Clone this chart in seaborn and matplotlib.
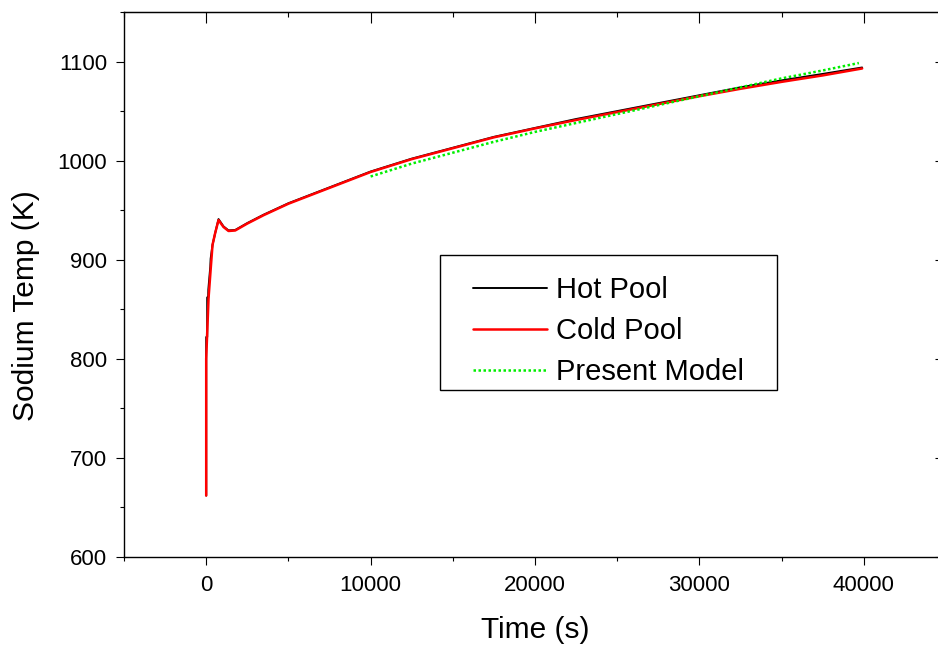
import numpy as np
import pandas as pd
import seaborn as sns
import matplotlib.pyplot as plt
from matplotlib.patches import Rectangle

# sodium temperatures
hot_t = [0, 0, 60, 60, 120, 130, 250, 270, 385, 547, 750, 1053, 1357, 1763,
         2500, 3500, 5000, 7500, 10000, 12500, 15000, 17500, 20000, 22500,
         25000, 27500, 30000, 32500, 35000, 37500, 39900]
hot_T = [662, 822, 822, 862, 862, 870, 893, 901, 915, 927, 941, 933.6, 929.6, 930,
         937, 945.5, 957, 973, 989, 1002, 1013, 1024, 1033, 1042,
         1050, 1058, 1066, 1074, 1081, 1087.5, 1094]

cold_t = [0, 0, 142, 284, 385, 547, 750, 1053, 1357, 1763,
          2500, 3500, 5000, 7500, 10000, 12500, 15000, 17500, 20000, 22500,
          25000, 27500, 30000, 32500, 35000, 37500, 39900]
cold_T = [662, 800, 861, 893, 915, 927, 940, 933, 929, 929.5,
          936.5, 945, 956.5, 972.5, 988.5, 1001.5, 1012.5, 1023.5, 1032.5, 1041,
          1049, 1057, 1065, 1072.5, 1079.5, 1086, 1093]

model_t = [10000, 12500, 15000, 17500, 20000, 22500, 25000, 27500,
           30000, 32500, 35000, 37500, 39700]
model_T = [984, 997, 1008, 1019, 1029, 1038, 1047, 1056,
           1065, 1074, 1083, 1091, 1098.5]

sns.set_style('ticks')
plt.rcParams['font.family'] = ['Liberation Sans', 'DejaVu Sans']
plt.rcParams['text.color'] = 'black'
plt.rcParams['axes.labelcolor'] = 'black'

fig = plt.figure(figsize=(9.38, 6.48), dpi=100)
ax = fig.add_axes([124/938, 91/648, 822/938, 545/648])

sns.lineplot(x=hot_t, y=hot_T, ax=ax, color='black', lw=1.4,
             estimator=None, sort=False, label='Hot Pool')
sns.lineplot(x=cold_t, y=cold_T, ax=ax, color='red', lw=1.8,
             estimator=None, sort=False, label='Cold Pool')
sns.lineplot(x=model_t, y=model_T, ax=ax, color='#00ee00', lw=1.8,
             linestyle=(0, (1, 1)), estimator=None, sort=False, label='Present Model')

ax.set_xlim(-5000, 45000)
ax.set_ylim(600, 1150)
ax.set_xticks([0, 10000, 20000, 30000, 40000])
ax.set_xticks(np.arange(-5000, 45001, 5000), minor=True)
ax.set_yticks([600, 700, 800, 900, 1000, 1100])
ax.set_yticks(np.arange(600, 1151, 50), minor=True)
ax.tick_params(which='major', direction='out', length=6, width=0.8, labelsize=16, colors='black')
ax.tick_params(which='minor', direction='out', length=3, width=0.8, colors='black')
ax.tick_params(axis='x', pad=7)
ax.tick_params(axis='y', pad=6)

for s in ax.spines.values():
    s.set_linewidth(1.0)
    s.set_color('black')

# top and right axes: inward ticks, no labels
top = ax.secondary_xaxis('top')
top.set_xticks([0, 10000, 20000, 30000, 40000])
top.set_xticks(np.arange(-5000, 45001, 5000), minor=True)
top.tick_params(which='major', direction='in', length=8, width=0.8, labeltop=False, colors='black')
top.tick_params(which='minor', direction='in', length=3.5, width=0.8, colors='black')
right = ax.secondary_yaxis('right')
right.set_yticks([600, 700, 800, 900, 1000, 1100])
right.set_yticks(np.arange(600, 1151, 50), minor=True)
right.tick_params(which='major', direction='in', length=8, width=0.8, labelright=False, colors='black')
right.tick_params(which='minor', direction='in', length=3.5, width=0.8, colors='black')

ax.set_xlabel('Time (s)', fontsize=21.5, labelpad=14)
ax.set_ylabel('Sodium Temp (K)', fontsize=21.5)
ax.yaxis.set_label_coords(-0.102, 0.462)

# legend without its own frame; a wider box is drawn around it afterwards
leg = ax.legend(loc='upper left', bbox_to_anchor=(473/938, 1 - 276/648),
                bbox_transform=fig.transFigure, fontsize=21, frameon=False,
                handlelength=2.55, handletextpad=0.3, labelspacing=0.45,
                borderpad=0, borderaxespad=0, labelcolor='black')
fig.canvas.draw()
bb = leg.get_window_extent().transformed(fig.transFigure.inverted())
padx, pad_top, pad_bot = 33/938, 21/648, 4/648
fig.add_artist(Rectangle((bb.x0 - padx, bb.y0 - pad_bot), bb.width + 2*padx,
                         bb.height + pad_top + pad_bot,
                         transform=fig.transFigure, fill=False, edgecolor='black', lw=1.0))

fig.savefig('out.png', dpi=100)
